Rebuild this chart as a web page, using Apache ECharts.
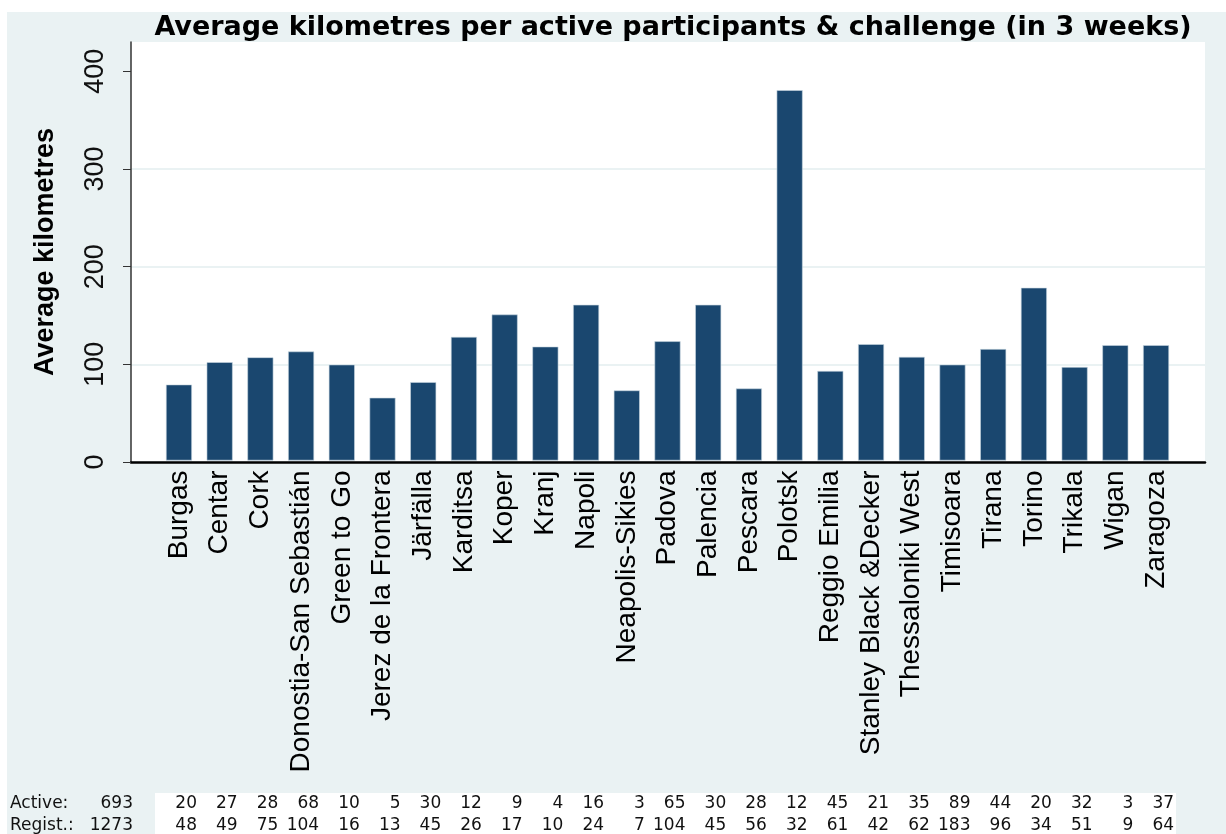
<!DOCTYPE html>
<html>
<head>
	<meta charset="utf-8" />
	<title>Average kilometres per active participant</title>
	<style type="text/css">
	*{margin: 0;padding: 0;}
	body{background: #fff;}
	#chart{width: 1226px;height: 834px;}
	</style>
</head>
<body>
<div id="chart"></div>
<script src="https://cdn.jsdelivr.net/npm/echarts@6/dist/echarts.min.js"></script>
<script type="text/javascript">
	// data
	var cities = ['Burgas', 'Centar', 'Cork', 'Donostia-San Sebastián', 'Green to Go',
		'Jerez de la Frontera', 'Järfälla', 'Karditsa', 'Koper', 'Kranj', 'Napoli',
		'Neapolis-Sikies', 'Padova', 'Palencia', 'Pescara', 'Polotsk', 'Reggio Emilia',
		'Stanley Black &Decker', 'Thessaloniki West', 'Timisoara', 'Tirana', 'Torino',
		'Trikala', 'Wigan', 'Zaragoza'];
	var avgKm = [78, 101, 106, 112, 98.5, 64.5, 80.5, 127, 150, 117, 160,
		72, 122.5, 160, 74, 380.5, 92, 119.5, 106.5, 98.5, 114.5, 177.5,
		96, 118.5, 118.5];
	var active = [20, 27, 28, 68, 10, 5, 30, 12, 9, 4, 16, 3, 65, 30, 28, 12, 45, 21, 35, 89, 44, 20, 32, 3, 37];
	var regist = [48, 49, 75, 104, 16, 13, 45, 26, 17, 10, 24, 7, 104, 45, 56, 32, 61, 42, 62, 183, 96, 34, 51, 9, 64];
	var activeTotal = 693, registTotal = 1273;
	var yTicks = [0, 100, 200, 300, 400];

	var bg = '#eaf2f3', navy = '#1a476f';
	var font = '"Liberation Sans", Arial, sans-serif';
	var tblFont = '"DejaVu Sans", Verdana, sans-serif';

	// plot box
	var plotL = 131, plotR = 1205, plotT = 42, plotB = 462;
	// category band (first center 179, last 1156)
	var barL = 158.6, barR = 1176.4;

	function numAxis(data, off) {
		return {
			type: 'category', gridIndex: 1, data: cities, position: 'bottom', offset: off,
			axisLine: {show: false}, axisTick: {show: false},
			axisLabel: {
				interval: 0, margin: 0, verticalAlign: 'middle',
				formatter: function(v, i) { return '{n|' + data[i] + '}'; },
				rich: {n: {width: 36, align: 'right', fontFamily: tblFont, fontSize: 17, color: '#111'}}
			}
		};
	}

	var option = {
		animation: false,
		title: {
			text: 'Average kilometres per active participants & challenge (in 3 weeks)',
			left: 668, top: 9, textAlign: 'center',
			textStyle: {fontFamily: tblFont, fontWeight: 'bold', fontSize: 27, color: '#000'}
		},
		graphic: [
			{type: 'rect', z: -10, shape: {x: 7, y: 12, width: 1219, height: 822}, style: {fill: bg}},
			{type: 'rect', z: -9, shape: {x: 155, y: 793, width: 1021, height: 41}, style: {fill: '#fff'}},
			{type: 'text', left: 10, top: 795, style: {text: 'Active:', font: '17px ' + tblFont, fill: '#111'}},
			{type: 'text', right: 1226 - 133, top: 795, style: {text: String(activeTotal), font: '17px ' + tblFont, fill: '#111'}},
			{type: 'text', left: 10, top: 817, style: {text: 'Regist.:', font: '17px ' + tblFont, fill: '#111'}},
			{type: 'text', right: 1226 - 133, top: 817, style: {text: String(registTotal), font: '17px ' + tblFont, fill: '#111'}}
		],
		grid: [
			{left: plotL, right: 1226 - plotR, top: plotT, bottom: 834 - plotB, show: true,
				backgroundColor: '#fff', borderWidth: 0},
			{left: barL, right: 1226 - barR, top: plotT, bottom: 834 - plotB}
		],
		xAxis: [
			{type: 'value', gridIndex: 0, min: 0, max: 1,
				axisLine: {show: true, lineStyle: {color: '#000', width: 2.5}},
				axisTick: {show: false}, axisLabel: {show: false}, splitLine: {show: false}},
			{type: 'category', gridIndex: 1, data: cities,
				axisLine: {show: false}, axisTick: {show: false},
				axisLabel: {interval: 0, rotate: 90, margin: 10, fontFamily: font, fontSize: 28, color: '#000'}},
			numAxis(active, 343),
			numAxis(regist, 365)
		],
		yAxis: [
			{type: 'value', gridIndex: 0, min: 0, max: 430, interval: 100,
				name: 'Average kilometres', nameLocation: 'middle', nameGap: 72,
				nameTextStyle: {fontFamily: font, fontWeight: 'bold', fontSize: 27, color: '#000'},
				axisLine: {show: true, lineStyle: {color: '#333', width: 1.5}},
				axisTick: {show: true, length: 8, lineStyle: {color: '#333'}, customValues: yTicks},
				axisLabel: {rotate: 90, margin: 22, fontFamily: font, fontSize: 27, color: '#111', customValues: yTicks},
				splitLine: {show: true, showMaxLine: false, lineStyle: {color: bg, width: 2}}},
			{type: 'value', gridIndex: 1, min: 0, max: 430, show: false}
		],
		series: [{
			type: 'bar', xAxisIndex: 1, yAxisIndex: 1, data: avgKm, barWidth: 26,
			itemStyle: {color: navy, borderColor: '#c9d6e0', borderWidth: 0.6}
		}]
	};

	var chart = echarts.init(document.getElementById('chart'));
	chart.setOption(option);
</script>
</body>
</html>
